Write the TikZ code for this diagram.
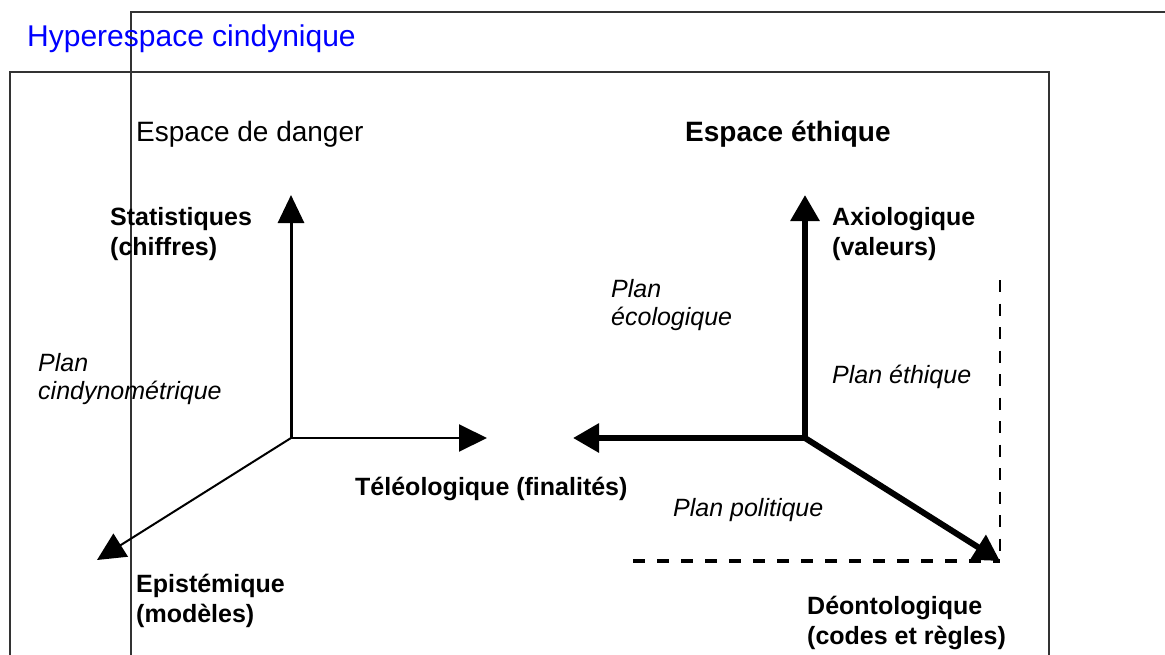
\documentclass[tikz,border=0pt]{standalone}
\usepackage{fontspec}
\setmainfont{Liberation Sans}
\usetikzlibrary{arrows.meta}
\newcommand{\twoline}[2]{\vtop{\hbox{#1}\hbox{#2}}}
\begin{document}
\begin{tikzpicture}[x=1pt,y=-1pt,
  lbl/.style={anchor=base west, inner sep=0pt, font=\fontsize{25}{29}\selectfont},
  blbl/.style={anchor=base west, inner sep=0pt, font=\fontsize{25}{30}\selectfont\bfseries},
  ilbl/.style={anchor=base west, inner sep=0pt, font=\fontsize{25}{28}\selectfont\itshape},
  head/.style={anchor=base west, inner sep=0pt, font=\fontsize{28}{32}\selectfont},
  frameline/.style={draw=black!80, line width=1.8pt},
  thinax/.style={line width=2pt, -{Triangle[length=28pt,width=27pt]}},
  midax/.style={line width=3pt, -{Triangle[length=28pt,width=26pt]}},
  thickax/.style={line width=6pt, -{Triangle[length=26pt,width=28pt]}},
  hdash/.style={line width=3.5pt, dash pattern=on 12pt off 12pt},
  vdash/.style={line width=2pt, dash pattern=on 12pt off 11.5pt}
]
\useasboundingbox (0,0) rectangle (1165,654);
\clip (0,0) rectangle (1165,654);
% frames
\coordinate (fa1) at (131,660);
\coordinate (fa2) at (131,12);
\coordinate (fa3) at (1170,12);
\coordinate (fb1) at (10,660);
\coordinate (fb2) at (10,72);
\coordinate (fb3) at (1049,72);
\coordinate (fb4) at (1049,660);
\draw[frameline] (fa1) -- (fa2) -- (fa3);
\draw[frameline] (fb1) -- (fb2) -- (fb3) -- (fb4);
% title
\node[head, font=\fontsize{30}{34}\selectfont, text=blue] (title) at (27,46) {Hyperespace cindynique};
\node[head] (danger) at (136,141) {Espace de danger};
\node[head, font=\fontsize{28}{32}\selectfont\bfseries] (ethique) at (685,141) {Espace éthique};
% left axes
\coordinate (LO) at (291,438);
\coordinate (LU) at (291,195);
\coordinate (LR) at (487,438);
\coordinate (LD) at (97,560);
\draw[midax] (LO) -- (LU);
\draw[thinax] (LO) -- (LR);
\draw[thinax] (LO) -- (LD);
% right axes
\coordinate (RO) at (805,438);
\coordinate (RU) at (805,195);
\coordinate (RL) at (573,438);
\coordinate (RD) at (1000,561);
\coordinate (DH) at (633,561);
\coordinate (DC) at (1000,561);
\coordinate (DV) at (1000,280);
\draw[hdash] (DH) -- (DC);
\draw[vdash] (DV) -- (DC);
\draw[thickax] (RO) -- (RU);
\draw[thickax] (RO) -- (RL);
\draw[thickax] (RO) -- (RD);
% labels
\node[blbl] (stat) at (110,225) {\twoline{Statistiques}{(chiffres)}};
\node[ilbl] (cindy) at (38,371) {\twoline{Plan}{cindynométrique}};
\node[blbl] (teleo) at (355,495) {Téléologique (finalités)};
\node[blbl] (episte) at (136,592) {\twoline{Epistémique}{(modèles)}};
\node[blbl] (axio) at (832,225) {\twoline{Axiologique}{(valeurs)}};
\node[ilbl] (ecolo) at (611,297) {\twoline{Plan}{écologique}};
\node[ilbl] (pethique) at (832,383) {Plan éthique};
\node[ilbl] (politique) at (673,516) {Plan politique};
\node[blbl] (deonto) at (807,614) {\twoline{Déontologique}{(codes et règles)}};
\end{tikzpicture}
\end{document}
